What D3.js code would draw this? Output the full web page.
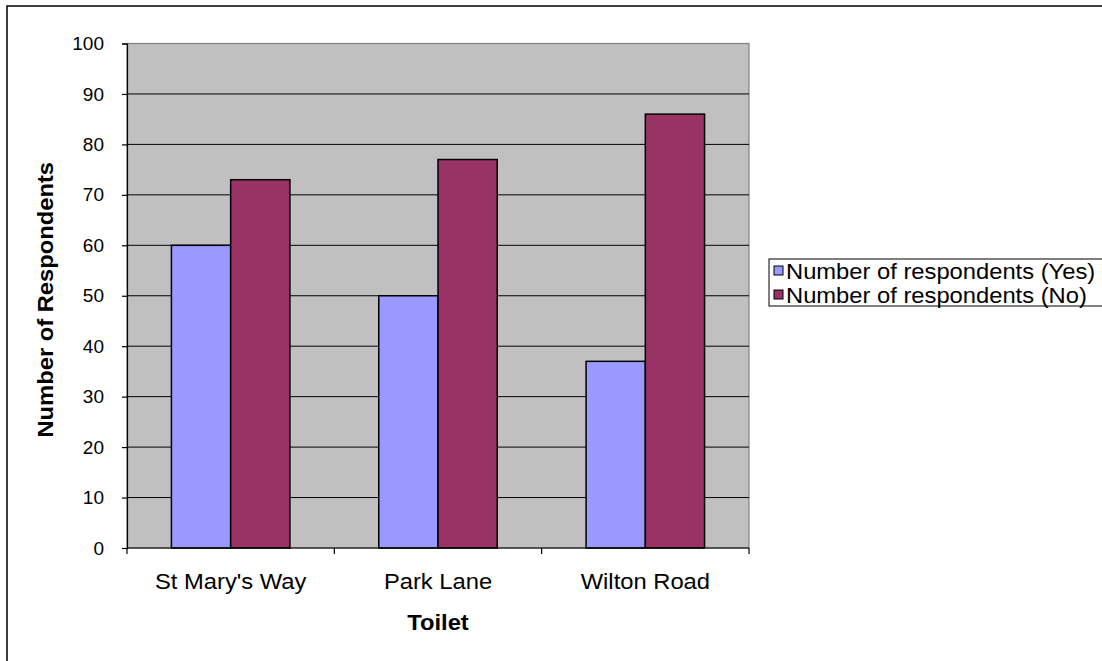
<!DOCTYPE html>
<html>
<head>
<meta charset="utf-8">
<script src="https://cdn.jsdelivr.net/npm/d3@7"></script>
<style>
  html, body { margin: 0; padding: 0; background: #fff; }
  svg { display: block; }
  text { font-family: "Liberation Sans", Arial, sans-serif; fill: #000; }
</style>
</head>
<body>
<svg id="chart" width="1102" height="661"></svg>
<script>
// Survey results per toilet location
const categories = ["St Mary's Way", "Park Lane", "Wilton Road"];
const seriesNames = ["Number of respondents (Yes)", "Number of respondents (No)"];
const yesValues = [60, 50, 37];
const noValues = [73, 77, 86];
const yTicks = [0, 10, 20, 30, 40, 50, 60, 70, 80, 90, 100];
const seriesColors = ["#9999FF", "#993366"];

const svg = d3.select("#chart");
const W = 1102, H = 661;
const TEXT_STRETCH = 1.08;   // slightly wide lettering

// Outer chart frame (extends past the right and bottom edges)
svg.append("rect")
  .attr("x", 7).attr("y", 6)
  .attr("width", W + 20).attr("height", H + 20)
  .attr("fill", "#fff").attr("stroke", "#000").attr("stroke-width", 1.5);

const plot = { left: 127, top: 43.5, right: 749, bottom: 548 };

const x = d3.scaleBand()
  .domain(categories)
  .range([plot.left, plot.right])
  .paddingInner(0).paddingOuter(0);

const y = d3.scaleLinear()
  .domain([0, 100])
  .range([plot.bottom, plot.top]);

// Plot area background
svg.append("rect")
  .attr("x", plot.left).attr("y", plot.top)
  .attr("width", plot.right - plot.left).attr("height", plot.bottom - plot.top)
  .attr("fill", "#C0C0C0")
  .attr("stroke", "#808080").attr("stroke-width", 1.2);

// Horizontal gridlines
svg.append("g")
  .selectAll("line")
  .data(yTicks.filter(t => t > 0 && t < 100))
  .join("line")
  .attr("x1", plot.left).attr("x2", plot.right)
  .attr("y1", d => y(d)).attr("y2", d => y(d))
  .attr("stroke", "#000").attr("stroke-width", 1);

// Bars: two series side by side within each category
const groupWidthFrac = 2 / 3.5;
const xs = d3.scaleBand()
  .domain([0, 1])
  .range([0, x.bandwidth() * groupWidthFrac]);
const groupOffset = (x.bandwidth() - x.bandwidth() * groupWidthFrac) / 2;

const rows = categories.map((c, i) => ({ cat: c, vals: [yesValues[i], noValues[i]] }));

svg.append("g")
  .selectAll("g")
  .data(rows)
  .join("g")
  .attr("transform", d => `translate(${x(d.cat) + groupOffset},0)`)
  .selectAll("rect")
  .data(d => d.vals.map((v, k) => ({ v, k })))
  .join("rect")
  .attr("x", d => xs(d.k))
  .attr("width", xs.bandwidth())
  .attr("y", d => y(d.v))
  .attr("height", d => y(0) - y(d.v))
  .attr("fill", d => seriesColors[d.k])
  .attr("stroke", "#000").attr("stroke-width", 1.5);

// Y axis
const yAxis = svg.append("g")
  .attr("transform", `translate(${plot.left},0)`)
  .call(d3.axisLeft(y).tickValues(yTicks).tickSize(5).tickPadding(18));
yAxis.select(".domain").attr("stroke", "#000").attr("stroke-width", 1.2);
yAxis.selectAll(".tick line").attr("stroke", "#000").attr("stroke-width", 1.2);
yAxis.selectAll(".tick text")
  .attr("font-size", 19).attr("font-family", "Liberation Sans, Arial, sans-serif")
  .attr("fill", "#000");

// X axis with ticks at category boundaries
const xAxisG = svg.append("g").attr("transform", `translate(0,${plot.bottom})`);
xAxisG.append("line")
  .attr("x1", plot.left).attr("x2", plot.right)
  .attr("y1", 0).attr("y2", 0)
  .attr("stroke", "#000").attr("stroke-width", 1.2);
const boundaries = categories.map(c => x(c)).concat([x(categories[categories.length - 1]) + x.bandwidth()]);
xAxisG.selectAll("line.tick")
  .data(boundaries)
  .join("line")
  .attr("class", "tick")
  .attr("x1", d => d).attr("x2", d => d)
  .attr("y1", 0).attr("y2", 6)
  .attr("stroke", "#000").attr("stroke-width", 1.2);
xAxisG.selectAll("text.cat")
  .data(categories)
  .join("text")
  .attr("class", "cat")
  .attr("transform", d => `translate(${x(d) + x.bandwidth() / 2},41) scale(${TEXT_STRETCH},1)`)
  .attr("text-anchor", "middle")
  .attr("font-size", 22)
  .text(d => d);

// Axis titles
svg.append("text")
  .attr("transform", `translate(${(plot.left + plot.right) / 2},630) scale(${TEXT_STRETCH},1)`)
  .attr("text-anchor", "middle")
  .attr("font-size", 22).attr("font-weight", "bold")
  .text("Toilet");

svg.append("text")
  .attr("transform", `translate(53,${(plot.top + plot.bottom) / 2 + 4}) rotate(-90) scale(${TEXT_STRETCH},1)`)
  .attr("text-anchor", "middle")
  .attr("font-size", 22).attr("font-weight", "bold")
  .text("Number of Respondents");

// Legend
const legend = svg.append("g");
legend.append("rect")
  .attr("x", 769).attr("y", 259)
  .attr("width", 340).attr("height", 47)
  .attr("fill", "#fff").attr("stroke", "#000").attr("stroke-width", 1);
const items = legend.selectAll("g.item")
  .data(seriesNames)
  .join("g")
  .attr("class", "item")
  .attr("transform", (d, i) => `translate(774,${271 + i * 24})`);
items.append("rect")
  .attr("x", 0).attr("y", -5)
  .attr("width", 9).attr("height", 9)
  .attr("fill", (d, i) => seriesColors[i])
  .attr("stroke", "#000").attr("stroke-width", 1);
items.append("text")
  .attr("transform", `translate(12,8) scale(${TEXT_STRETCH},1)`)
  .attr("font-size", 22)
  .text(d => d);
</script>
</body>
</html>
